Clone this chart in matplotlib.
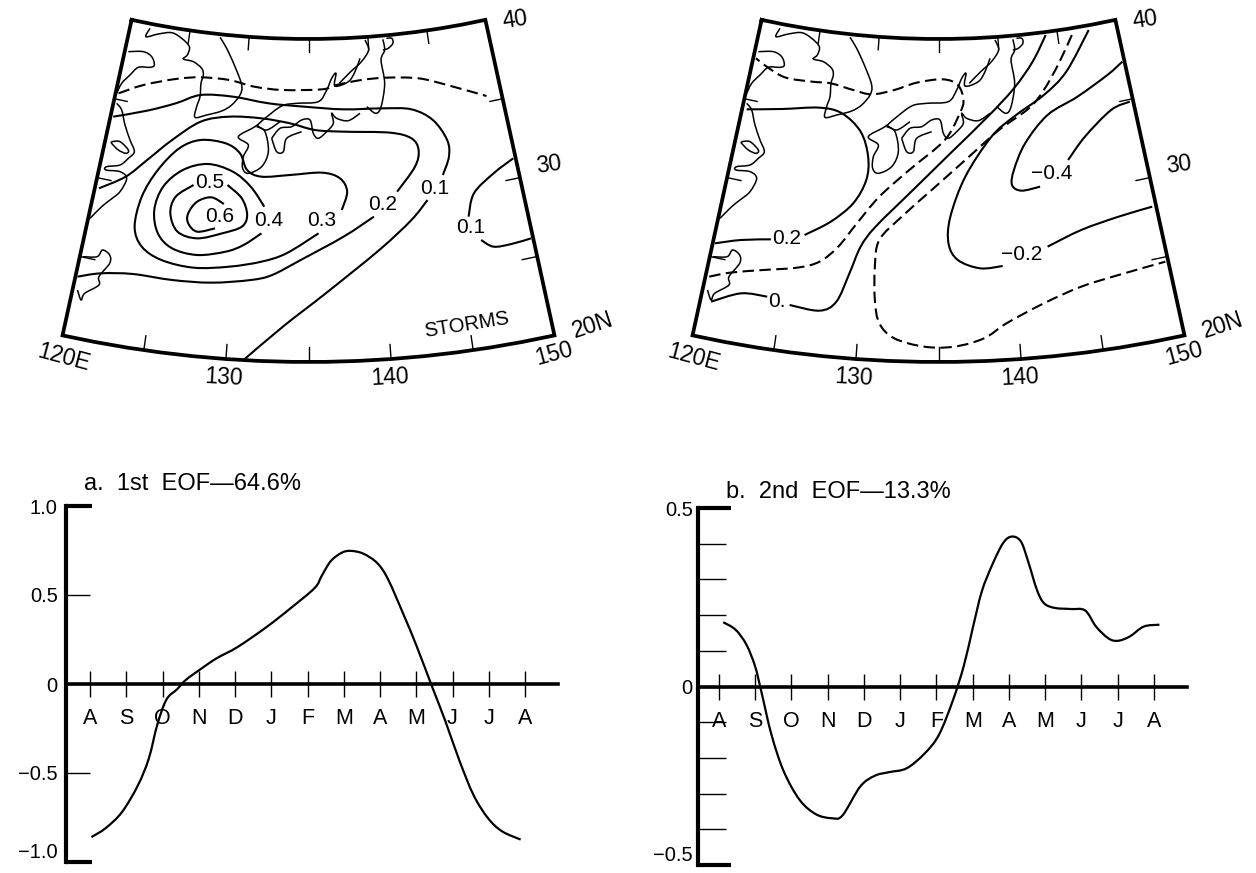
import numpy as np
import matplotlib
matplotlib.use("Agg")
import matplotlib.pyplot as plt
from matplotlib.path import Path
from matplotlib.patches import PathPatch

plt.rcParams['font.family'] = ['Liberation Sans', 'DejaVu Sans']

W, H = 1256, 873

# time series, month index 0..12 from August to August
months = ["A", "S", "O", "N", "D", "J", "F", "M", "A", "M", "J", "J", "A"]
eof1_t = [.04, .43, .88, 1.32, 1.62, 1.86, 2.11, 2.40, 2.65, 3.09, 3.49, 4.08, 4.87, 5.56, 6.2, 6.39,
          6.64, 6.94, 7.18, 7.53, 7.92, 8.22, 8.66, 9.0, 9.45, 9.8, 10.19, 10.58, 10.98, 11.37, 11.88]
eof1_v = [-.86, -.81, -.72, -.57, -.42, -.226, -.087, -.03, .024, .089, .144, .209, .32, .43, .54, .607,
          .69, .737, .748, .733, .68, .589, .385, .218, -.022, -.207, -.43, -.624, -.754, -.828, -.874]
eof2_t = [.12, .46, .76, 1.0, 1.17, 1.45, 1.79, 2.23, 2.68, 3.12, 3.41, 3.9, 4.3, 4.69, 5.18, 5.68, 6.07,
          6.46, 6.76, 7.0, 7.25, 7.54, 7.84, 8.08, 8.33, 8.53, 8.77, 8.97, 9.27, 9.71, 10.1, 10.4, 10.74,
          11.0, 11.33, 11.72, 12.15]
eof2_v = [.18, .159, .117, .056, -.014, -.135, -.238, -.318, -.358, -.369, -.361, -.28, -.25, -.24, -.229,
          -.187, -.135, -.037, .06, .163, .266, .341, .402, .42, .406, .35, .271, .233, .22, .217, .213,
          .168, .135, .128, .14, .168, .173]

coast_fine = [
    [(150, 55), (138, 80), (175, 72), (215, 68), (245, 85), (268, 110), (262, 135), (250, 147), (280, 155), (305, 175),
     (310, 195), (303, 220), (300, 260), (290, 290), (285, 322), (320, 315), (365, 303), (395, 285), (420, 255),
     (425, 225), (405, 170), (380, 115), (360, 82)],
    [(85, 125), (130, 125), (155, 140), (163, 165), (150, 172), (115, 172), (90, 195), (65, 220), (50, 250)],
    [(50, 280), (65, 300), (75, 345), (90, 390), (103, 425), (85, 445), (60, 465), (20, 470), (18, 480), (60, 485),
     (80, 505), (60, 545), (30, 570), (5, 590), (-30, 625)],
    [(35, 395), (60, 395), (85, 420), (78, 430), (55, 420), (35, 400), (35, 395)],
    [(780, 145), (765, 185), (745, 215), (705, 228), (708, 190), (695, 205), (680, 240), (655, 275), (590, 280),
     (545, 288), (495, 325), (465, 350), (415, 380), (445, 405), (430, 440), (428, 475), (445, 490), (485, 470),
     (505, 425), (495, 365), (470, 350)],
    [(470, 345), (500, 360), (540, 335)],
    [(515, 385), (540, 355), (575, 350), (605, 330), (630, 330), (640, 370), (655, 385), (680, 365), (700, 340),
     (695, 310), (710, 325), (745, 332), (780, 310)],
    [(515, 385), (530, 425), (550, 425), (560, 385), (605, 365)],
]

# rest of the map lines, digitised in wider crop units (x / 2.8 + 40, y / 3)
coast = [
    [(120, 770), (160, 770), (175, 750), (195, 765), (195, 790), (165, 830), (165, 855), (125, 880), (115, 900),
     (105, 870)],
    [(915, 320), (940, 340), (955, 320), (965, 250), (955, 180), (965, 150), (960, 118)],
    [(910, 120), (920, 150), (900, 185), (870, 215), (838, 250)],
    [(970, 115), (985, 115), (988, 130), (975, 145), (960, 150)],
]

left_solid = [
    [(205, 350), (300, 332), (380, 310), (450, 285), (540, 290), (640, 310), (740, 320), (850, 328), (960, 325),
     (1040, 328), (1100, 360), (1140, 420), (1145, 470), (1128, 525)],
    [(1085, 600), (1040, 660), (950, 750), (800, 880), (680, 980), (570, 1080)],
    [(105, 830), (170, 820), (260, 822), (370, 840), (480, 848), (590, 840), (650, 825), (730, 780), (850, 710),
     (935, 650)],
    [(1000, 575), (1050, 500), (1060, 450), (1040, 415), (980, 398), (850, 395), (770, 390), (700, 370), (620, 355),
     (530, 350), (450, 365), (370, 420), (300, 480), (240, 530), (165, 565)],
    [(845, 630), (860, 575), (840, 535), (790, 518), (700, 525), (620, 530), (580, 510), (560, 460), (520, 430),
     (450, 420), (390, 445), (330, 510), (285, 590), (265, 680), (285, 740), (340, 780), (430, 803), (530, 800),
     (620, 785), (690, 760), (780, 700)],
    [(628, 620), (590, 560), (540, 515), (470, 492), (400, 510), (345, 560), (320, 630), (330, 700), (370, 745),
     (440, 765), (520, 755), (570, 735), (620, 700)],
    [(525, 555), (565, 595), (580, 645), (565, 680), (510, 700), (440, 715), (385, 695), (365, 640), (380, 590),
     (430, 555)],
    [(515, 612), (480, 592), (440, 605), (415, 640), (415, 670), (440, 695), (490, 685)],
    [(1325, 475), (1270, 520), (1215, 580), (1200, 650)],
    [(1235, 720), (1270, 740), (1320, 732), (1375, 715)],
]
left_dashed = [
    [(220, 280), (290, 255), (380, 237), (450, 232), (530, 240), (600, 260), (680, 270), (790, 268), (830, 255),
     (900, 240), (970, 233), (1060, 235), (1140, 255), (1250, 288)],
]
left_labels = ["0.5", "0.6", "0.4", "0.3", "0.2", "0.1", "0.1"]
left_label_x = [475, 503, 640, 790, 960, 1105, 1205]
left_label_y = [548, 650, 660, 660, 615, 565, 683]

# right map was cropped a bit wider, x / 2.675 + 670
right_solid = [
    [(205, 328), (300, 327), (400, 323), (460, 340), (510, 395), (530, 470), (525, 540), (490, 610), (430, 665),
     (360, 705)],
    [(270, 718), (190, 720), (120, 730)],
    [(110, 905), (190, 880), (260, 890)],
    [(320, 915), (400, 932), (445, 905), (480, 820), (510, 740), (550, 680), (650, 570), (750, 460), (850, 350),
     (920, 265), (970, 185), (1005, 105)],
    [(1120, 90), (1060, 215), (1000, 285), (920, 350), (860, 410), (790, 530), (750, 650), (745, 730), (770, 780),
     (830, 805), (890, 798)],
    [(1010, 740), (1100, 690), (1200, 650), (1290, 620)],
    [(1210, 185), (1170, 225), (1090, 290), (1010, 345), (950, 430), (920, 510), (915, 555), (940, 572), (990, 560)],
    [(1065, 480), (1110, 410), (1180, 330), (1230, 305)],
]
right_dashed = [
    [(105, 830), (160, 818), (250, 810), (340, 803), (400, 785), (450, 740), (500, 670), (560, 590), (640, 510),
     (735, 420), (775, 340), (785, 300), (770, 255), (730, 238), (660, 248), (600, 270), (540, 283), (490, 270),
     (430, 250), (380, 245), (310, 233), (265, 205), (230, 175)],
    [(1075, 105), (1040, 190), (1000, 270), (960, 325), (880, 390), (800, 470), (700, 570), (620, 650), (560, 720),
     (548, 800), (548, 900), (560, 970), (600, 1015), (680, 1040), (760, 1040), (840, 1015), (900, 970), (1000, 910),
     (1100, 860), (1200, 825), (1325, 785)],
]
right_labels = ["\u22120.4", "\u22120.2", "0.2", "0."]
right_label_x = [1022, 940, 312, 287]
right_label_y = [520, 763, 716, 905]

lon_ticks = [125, 130, 135, 140, 145]
lat_ticks = [25, 30, 35]


def smooth_path(pts):
    # catmull-rom handles as bezier segments so the path only passes through the read points
    p = np.array(pts, dtype=float)
    q = np.vstack([p[0], p, p[-1]])
    verts = [p[0]]
    codes = [Path.MOVETO]
    for i in range(1, len(q) - 2):
        verts += [q[i] + (q[i + 1] - q[i - 1]) / 6, q[i + 1] - (q[i + 2] - q[i]) / 6, q[i + 1]]
        codes += [Path.CURVE4] * 3
    return Path(verts, codes)


def project(lon, lat, dx=0):
    # conic frame, apex above the map
    r = 827 + (40 - lat) * (1150 - 827) / 20
    th = np.radians((lon - 135) * 12.35 / 15)
    return 308.5 + dx + r * np.sin(th), -788 + r * np.cos(th)


def crop_px(pts, x0, sx, y0=0):
    return [(x / sx + x0, y / 3 + y0) for x, y in pts]


fig = plt.figure(figsize=(W / 100, H / 100), dpi=100)

mp = fig.add_axes([0, 0, 1, 1])
mp.set_xlim(0, W)
mp.set_ylim(H, 0)
mp.axis("off")


def add_line(pts, lw=1.5, ls="-"):
    mp.add_patch(PathPatch(smooth_path(pts), fill=False, ec="k", lw=lw, ls=ls, capstyle="butt"))


def draw_frame(dx):
    lons = np.array([120, 122, 124, 126, 128, 130, 132, 134, 136, 138, 140, 142, 144, 146, 148, 150])
    x1, y1 = project(lons, 40, dx)
    x2, y2 = project(lons, 20, dx)
    mp.plot(np.r_[x1, x2[::-1], x1[0]], np.r_[y1, y2[::-1], y1[0]], color="k", lw=2.7, solid_joinstyle="miter")
    for lon in lon_ticks:
        x, y = project(lon, np.array([40, 39.2]), dx)
        mp.plot(x, y, color="k", lw=1)
        x, y = project(lon, np.array([20, 20.9]), dx)
        mp.plot(x, y, color="k", lw=1)
    for lat in lat_ticks:
        x, y = project(np.array([120, 121]), lat, dx)
        mp.plot(x, y, color="k", lw=1)
        x, y = project(np.array([150, 149]), lat, dx)
        mp.plot(x, y, color="k", lw=1)
    fs = 16.5
    mp.text(515 + dx, 20, "40", fontsize=fs, ha="center", va="center", rotation=8)
    mp.text(549 + dx, 165, "30", fontsize=fs, ha="center", va="center", rotation=8)
    mp.text(554 + dx, 354, "150", fontsize=fs, ha="center", va="center", rotation=15)
    mp.text(593 + dx, 325, "20N", fontsize=fs, ha="center", va="center", rotation=18)
    mp.text(64 + dx, 358, "120E", fontsize=fs, ha="center", va="center", rotation=-15)
    mp.text(224 + dx, 378, "130", fontsize=fs, ha="center", va="center", rotation=-3)
    mp.text(390 + dx, 378, "140", fontsize=fs, ha="center", va="center", rotation=3)


for dx in [0, 630]:
    draw_frame(dx)
    for seg in coast_fine:
        add_line(crop_px(seg, 100 + dx, 3, 10), lw=1.1)
    for seg in coast:
        add_line(crop_px(seg, 40 + dx, 2.8), lw=1.1)

for seg in left_solid:
    add_line(crop_px(seg, 40, 2.8))
for seg in left_dashed:
    add_line(crop_px(seg, 40, 2.8), ls=(0, (5.5, 2.6)))
for s, x, y in zip(left_labels, left_label_x, left_label_y):
    mp.text(x / 2.8 + 40, y / 3, s, fontsize=15, ha="center", va="center")
mp.text(467, 325, "STORMS", fontsize=14.5, ha="center", va="center", rotation=9)

for seg in right_solid:
    add_line(crop_px(seg, 670, 2.675))
for seg in right_dashed:
    add_line(crop_px(seg, 670, 2.675), ls=(0, (5.5, 2.6)))
for s, x, y in zip(right_labels, right_label_x, right_label_y):
    mp.text(x / 2.675 + 670, y / 3, s, fontsize=15, ha="center", va="center")


def eof_axes(x0, x1, y0, y1, xlim, ylim, yticks, ylabels, tick_len, end_len, pad):
    ax = fig.add_axes([x0 / W, 1 - y1 / H, (x1 - x0) / W, (y1 - y0) / H])
    ax.patch.set_alpha(0)
    ax.set_xlim(xlim)
    ax.set_ylim(ylim)
    for s in ["top", "right"]:
        ax.spines[s].set_visible(False)
    ax.spines["left"].set_linewidth(3)
    ax.spines["bottom"].set_linewidth(2.6)
    ax.spines["bottom"].set_position(("data", 0))
    ax.set_xticks(range(13))
    ax.set_xticklabels(months, fontsize=15.5)
    ax.tick_params(axis="x", direction="inout", length=19, width=1, pad=8)
    ax.set_yticks(yticks)
    ax.set_yticklabels(ylabels, fontsize=14.5)
    ax.tick_params(axis="y", direction="in", length=tick_len, width=1, pad=pad)
    yt = ax.yaxis.get_major_ticks()
    for t in (yt[0], yt[-1]):
        t.tick1line.set_markersize(end_len)
        t.tick1line.set_markeredgewidth(3)
    # bottom label sits tight against the page edge
    yt[0].label1.set_va("bottom")
    return ax


ax1 = eof_axes(66, 558, 506, 862, (-0.662, 12.91), (-1, 1), [-1, -.5, 0, .5, 1],
               ["\u22121.0", "\u22120.5", "0", "0.5", "1.0"], 17, 19, 6)
ax1.add_patch(PathPatch(smooth_path(list(zip(eof1_t, eof1_v))), fill=False, ec="k", lw=1.6))

ax2 = eof_axes(697.5, 1187, 508, 865, (-0.59, 12.91), (-.5, .5), [-.5, -.4, -.3, -.2, -.1, 0, .1, .2, .3, .4, .5],
               ["\u22120.5", "", "", "", "", "0", "", "", "", "", "0.5"], 20, 24, 3.5)
ax2.add_patch(PathPatch(smooth_path(list(zip(eof2_t, eof2_v))), fill=False, ec="k", lw=1.6))

fig.text(84 / W, 1 - 490 / H, "a.  1st  EOF\u201464.6%", fontsize=17, ha="left", va="baseline")
fig.text(726 / W, 1 - 498 / H, "b.  2nd  EOF\u201413.3%", fontsize=17, ha="left", va="baseline")

fig.savefig("out.png", dpi=100)
